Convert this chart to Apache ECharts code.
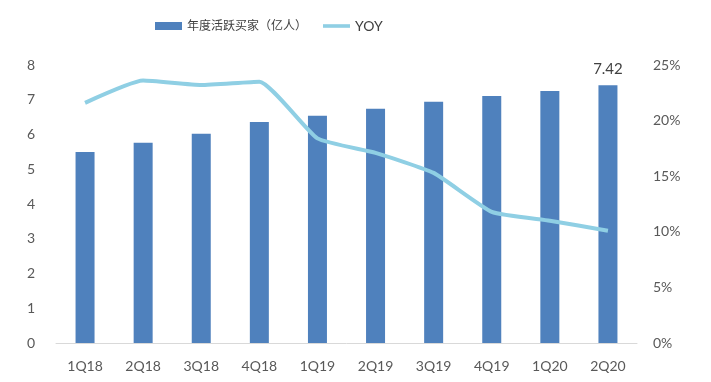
<!DOCTYPE html>
<html><head><meta charset="utf-8">
<script src="https://cdn.jsdelivr.net/npm/echarts@6/dist/echarts.min.js"></script>
<style>html,body{margin:0;padding:0;background:#fff}#c{width:711px;height:382px}</style>
</head><body><div id="c"></div>
<script>
const categories = ['1Q18','2Q18','3Q18','4Q18','1Q19','2Q19','3Q19','4Q19','1Q20','2Q20'];
const buyers = [5.50, 5.76, 6.02, 6.36, 6.54, 6.74, 6.94, 7.11, 7.25, 7.42];
const yoy = [21.6, 23.6, 23.2, 23.5, 18.4, 17.1, 15.3, 11.8, 11.0, 10.1];
const leftTicks = [0,1,2,3,4,5,6,7,8];
const rightTicks = ['0%','5%','10%','15%','20%','25%'];
const font = 'Lato, "Noto Sans CJK SC", sans-serif';
const chart = echarts.init(document.getElementById('c'));
chart.setOption({
  animation: false,
  textStyle: {fontFamily: font},
  legend: {
    top: 14, left: 150, itemWidth: 27, itemHeight: 8, itemGap: 16,
    textStyle: {fontSize: 12, color: '#404040', fontFamily: font},
    data: [{name: '年度活跃买家（亿人）', icon: 'rect'},
           {name: 'YOY', icon: 'path://M0,0 L30,0 L30,4 L0,4 Z', textStyle: {fontSize: 14}}]
  },
  grid: {left: 56, right: 74, top: 65, bottom: 39, containLabel: false},
  xAxis: {
    type: 'category', data: categories,
    axisLine: {lineStyle: {color: '#d9d9d9'}},
    axisTick: {show: false},
    axisLabel: {color: '#595959', fontSize: 14, margin: 16}
  },
  yAxis: [
    {type: 'value', min: leftTicks[0], max: leftTicks[leftTicks.length-1], interval: 1,
     splitLine: {show: false}, axisLine: {show: false}, axisTick: {show: false},
     axisLabel: {color: '#595959', fontSize: 14, margin: 21}},
    {type: 'value', min: 0, max: 25, interval: 5,
     splitLine: {show: false}, axisLine: {show: false}, axisTick: {show: false},
     axisLabel: {color: '#595959', fontSize: 14, margin: 16, align: 'left',
       formatter: v => rightTicks[v/5]}}
  ],
  series: [
    {name: '年度活跃买家（亿人）', type: 'bar', data: buyers.map((v,i) => i === buyers.length-1 ? {value: v, label: {show: true}} : v),
     barWidth: 19, itemStyle: {color: '#4F81BD'},
     label: {show: false, position: 'top', distance: 8, color: '#404040', fontSize: 15, formatter: p => p.value.toFixed(2)}},
    {name: 'YOY', type: 'line', yAxisIndex: 1, data: yoy, smooth: 0.15,
     symbol: 'none', lineStyle: {color: '#8FCFE4', width: 4}, itemStyle: {color: '#8FCFE4'}}
  ]
});
</script></body></html>
